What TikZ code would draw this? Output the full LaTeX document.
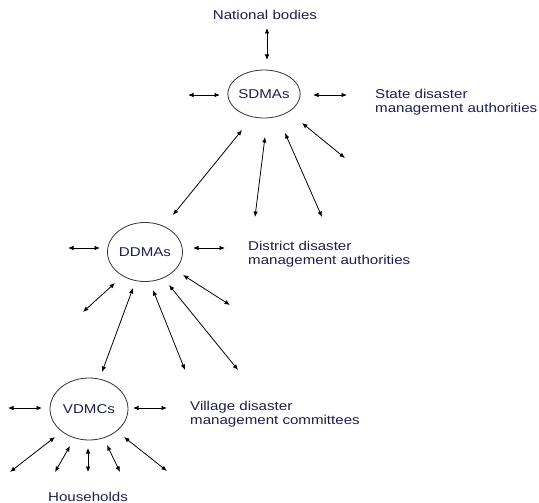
\documentclass[tikz,border=0pt]{standalone}
\usepackage{fontspec}
\setmainfont{Liberation Sans}[FakeStretch=1.18]
\usetikzlibrary{arrows.meta,shapes.geometric}
\definecolor{labelnavy}{RGB}{30,30,75}
\begin{document}
\begin{tikzpicture}[x=1pt,y=-1pt,
    body/.style={ellipse,draw=black!80,line width=0.8pt,inner sep=0pt,text=labelnavy,font=\fontsize{12.8}{13.5}\selectfont},
    lbl/.style={text=labelnavy,align=left,inner sep=0pt,font=\fontsize{12.8}{13.8}\selectfont},
    link/.style={{Latex[length=5.5pt,width=4.5pt]}-{Latex[length=5.5pt,width=4.5pt]},line width=0.8pt}]
        \useasboundingbox (0,0) rectangle (539,503);
        % the three levels
        \node[body,minimum width=70,minimum height=48] (sdma) at (264,94) {SDMAs};
        \node[body,minimum width=75,minimum height=59] (ddma) at (145,252) {DDMAs};
        \node[body,minimum width=78,minimum height=62] (vdmc) at (89,409) {VDMCs};
        % labels
        \node[lbl] (natl) at (265,15) {National bodies};
        \node[lbl,anchor=west] (sdmalbl) at (375,102) {State disaster\\management authorities};
        \node[lbl,anchor=west] (ddmalbl) at (248,254) {District disaster\\management authorities};
        \node[lbl,anchor=west] (vdmclbl) at (190,414) {Village disaster\\management committees};
        \node[lbl] (hh) at (88,497) {Households};
        % two-way links
        \foreach \n/\p/\q in {s1/{267,28}/{267,60}, s2/{188,95}/{220,95}, s3/{313,95}/{347,95},
                s4/{242,130}/{173,215}, s5/{265,137}/{255,217}, s6/{285,133}/{322,217}, s7/{302,123}/{345,158},
                d1/{68,248}/{100,248}, d2/{193,248}/{225,248}, d3/{115,283}/{83,312}, d4/{133,288}/{102,372},
                d5/{153,290}/{185,370}, d6/{169,285}/{238,370}, d7/{183,275}/{230,305},
                v1/{8,408}/{42,408}, v2/{133,408}/{167,408}, v3/{55,437}/{10,472}, v4/{70,446}/{55,472},
                v5/{88,448}/{88,472}, v6/{107,445}/{120,472}, v7/{124,437}/{167,471}}{
            \coordinate (\n a) at (\p);
            \coordinate (\n b) at (\q);
            \draw[link] (\n a) -- (\n b);
        }
    \end{tikzpicture}
\end{document}
